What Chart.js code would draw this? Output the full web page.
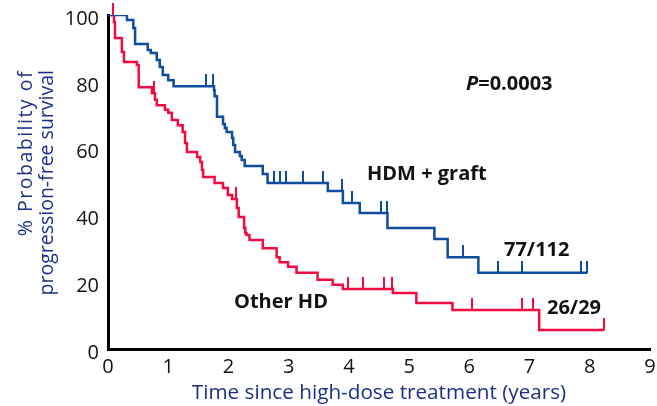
<!DOCTYPE html>
<html>
<head>
<meta charset="utf-8">
<script src="https://cdn.jsdelivr.net/npm/chart.js@4.4.1/dist/chart.umd.min.js"></script>
<style>
html,body{margin:0;padding:0;background:#fff;}
#wrap{width:657px;height:406px;position:relative;}
</style>
</head>
<body>
<div id="wrap"><canvas id="c" width="657" height="406"></canvas></div>
<script>
// ---- data ----
const xTicks = [0,1,2,3,4,5,6,7,8,9];
const yTicks = [0,20,40,60,80,100];

// HDM + graft: step times (years) and survival (%) after each step
const blueT = [0, 0.315, 0.42, 0.45, 0.66, 0.71, 0.81, 0.86, 0.91, 1.0, 1.09, 1.76, 1.77, 1.81, 1.91, 1.94, 1.97, 2.06, 2.08, 2.11, 2.19, 2.22, 2.27, 2.57, 2.65, 3.65, 3.90, 4.18, 4.64, 5.42, 5.64, 6.15, 7.96];
const blueS = [100, 98.5, 96.1, 91.3, 89.5, 88.6, 86.5, 84.4, 82.0, 80.5, 78.7, 77.5, 75.7, 69.5, 67.4, 66.2, 65.0, 63.2, 61.1, 59.0, 57.8, 56.6, 54.8, 52.4, 49.7, 47.3, 43.7, 40.7, 36.2, 32.9, 27.5, 22.8, 22.8];
const blueCensor = [1.63, 1.74, 2.75, 2.85, 2.95, 3.23, 3.57, 3.88, 4.05, 4.54, 4.63, 5.89, 6.47, 6.87, 7.86, 7.96];

// Other HD
const redT = [0, 0.10, 0.116, 0.23, 0.265, 0.48, 0.51, 0.73, 0.78, 0.81, 0.945, 1.0, 1.06, 1.16, 1.24, 1.28, 1.31, 1.48, 1.53, 1.56, 1.58, 1.77, 1.91, 1.99, 2.06, 2.14, 2.17, 2.26, 2.28, 2.30, 2.35, 2.57, 2.80, 2.85, 2.99, 3.13, 3.48, 3.73, 3.90, 4.73, 5.12, 5.72, 7.16, 8.24];
const redS = [100, 97.9, 93.1, 88.9, 85.9, 85.0, 78.4, 76.6, 74.6, 73.0, 71.6, 70.7, 68.6, 67.0, 65.0, 61.7, 59.0, 57.5, 56.0, 53.6, 51.5, 49.7, 48.2, 46.1, 44.9, 42.2, 39.5, 36.2, 34.7, 34.1, 32.6, 30.2, 27.5, 26.0, 24.6, 22.8, 20.7, 19.2, 18.0, 16.8, 13.8, 11.7, 5.7, 5.7];
const redCensor = [0.09, 0.77, 2.13, 3.98, 4.23, 4.59, 4.72, 6.05, 6.87, 7.05, 8.24];

const seriesNames = ['HDM + graft', 'Other HD'];
const countLabels = ['77/112', '26/29'];
const pValue = '=0.0003';
const yTitleLines = ['% Probability of', 'progression-free survival'];
const xTitle = 'Time since high-dose treatment (years)';

// ---- helpers ----
function stepValue(ts, ss, t){ let v = ss[0]; for (let i=0;i<ts.length;i++){ if (ts[i] <= t) v = ss[i]; } return v; }
function pts(ts, ss){ return ts.map((t,i)=>({x:t, y:ss[i]})); }
function censorPts(cs, ts, ss){ return cs.map(t=>({x:t, y:stepValue(ts, ss, t)})); }
function tickImg(color, len, w){
  const c = document.createElement('canvas');
  c.width = w; c.height = len*2;
  const g = c.getContext('2d');
  g.fillStyle = color; g.fillRect(0, 0, w, len);
  return c;
}

const BLUE = '#0f4c9e';
const RED = '#f20a40';
const NAVY = '#1c2f86';
const FONT = "'Open Sans', 'Noto Sans', sans-serif";

const annotations = {
  id: 'annotations',
  afterDraw(chart){
    const ctx = chart.ctx;
    ctx.save();
    ctx.fillStyle = '#111';
    ctx.textBaseline = 'middle';
    ctx.textAlign = 'left';
    ctx.font = "bold 20px " + FONT;
    ctx.fillText(seriesNames[0], 367, 174);
    ctx.fillText(seriesNames[1], 234, 302);
    ctx.fillText(countLabels[0], 504, 250);
    ctx.fillText(countLabels[1], 547, 308);
    ctx.font = "italic bold 20px " + FONT;
    ctx.fillText('P', 466, 84);
    const w = ctx.measureText('P').width;
    ctx.font = "bold 20px " + FONT;
    ctx.fillText(pValue, 466 + w, 84);
    // y-axis title (two lines, end-aligned as in the reference)
    ctx.fillStyle = NAVY;
    ctx.font = "19.5px " + FONT;
    ctx.translate(0, 70);
    ctx.rotate(-Math.PI/2);
    ctx.textAlign = 'right';
    ctx.letterSpacing = '1.5px';
    ctx.fillText(yTitleLines[0], 0, 26);
    ctx.letterSpacing = '0px';
    ctx.fillText(yTitleLines[1], 0, 47);
    ctx.restore();
  }
};

function fixPad(scale){ scale.paddingLeft = 0; scale.paddingRight = 0; scale.paddingTop = 0; scale.paddingBottom = 0; }

new Chart(document.getElementById('c'), {
  type: 'line',
  data: {
    datasets: [
      { label: seriesNames[1], data: pts(redT, redS), stepped: true, borderColor: RED, borderWidth: 2.5, pointRadius: 0, fill: false, order: 3 },
      { label: seriesNames[0], data: pts(blueT, blueS), stepped: true, borderColor: BLUE, borderWidth: 2.5, pointRadius: 0, fill: false, order: 2 },
      { type: 'scatter', label: 'c2', data: censorPts(redCensor, redT, redS), pointStyle: tickImg(RED, 12, 2), pointRadius: 6, clip: false, order: 1 },
      { type: 'scatter', label: 'c1', data: censorPts(blueCensor, blueT, blueS), pointStyle: tickImg(BLUE, 12, 2), pointRadius: 6, clip: false, order: 0 }
    ]
  },
  options: {
    responsive: false,
    animation: false,
    devicePixelRatio: 1,
    layout: { padding: { left: 0, top: 15, right: 6, bottom: 0 } },
    plugins: { legend: { display: false }, tooltip: { enabled: false } },
    scales: {
      x: {
        type: 'linear', min: 0, max: 9,
        afterBuildTicks(s){ s.ticks = xTicks.map(v=>({value:v})); },
        afterFit(s){ s.height = 57; fixPad(s); },
        grid: { display: false, drawTicks: false },
        border: { display: true, color: '#000', width: 3 },
        ticks: { color: '#111', font: { family: FONT, size: 20 }, padding: 6, maxRotation: 0, autoSkip: false },
        title: { display: true, text: xTitle, color: NAVY, font: { family: FONT, size: 20.7, lineHeight: 1.15 }, padding: { top: 0, bottom: 1 } }
      },
      y: {
        type: 'linear', min: 0, max: 100,
        afterBuildTicks(s){ s.ticks = yTicks.map(v=>({value:v})); },
        afterFit(s){ s.width = 108; fixPad(s); },
        grid: { display: false, drawTicks: false },
        border: { display: true, color: '#000', width: 3 },
        ticks: { color: '#111', font: { family: FONT, size: 20 }, padding: 9, labelOffset: 4 },
        title: { display: false }
      }
    }
  },
  plugins: [annotations]
});
</script>
</body>
</html>
